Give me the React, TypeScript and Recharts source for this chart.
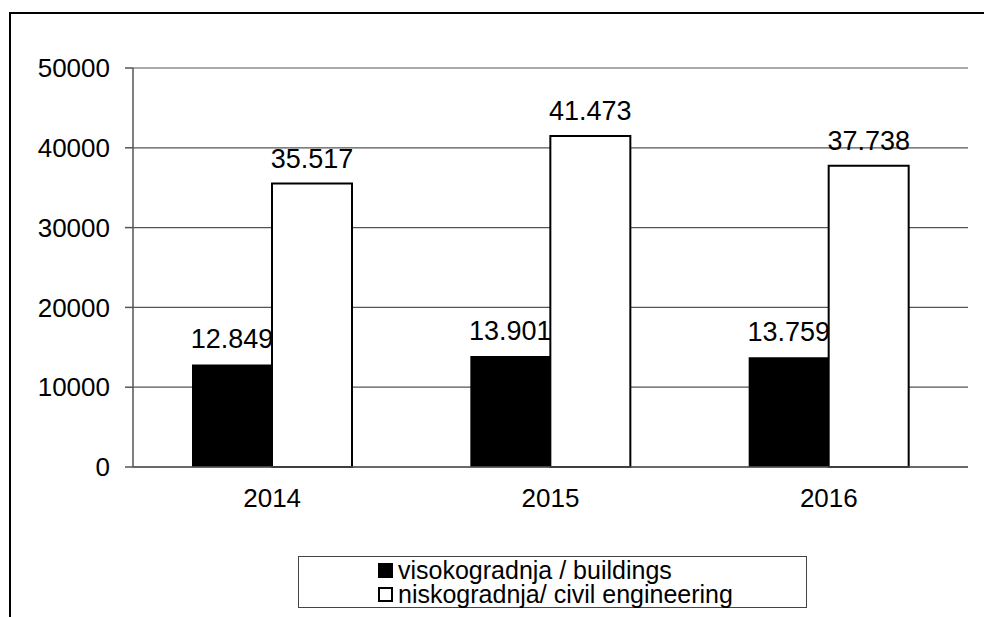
import {
  BarChart,
  Bar,
  XAxis,
  YAxis,
  CartesianGrid,
  Legend,
  LabelList,
} from 'recharts';

const years = ['2014', '2015', '2016'];
const buildings = [12849, 13901, 13759];
const civilEngineering = [35517, 41473, 37738];
const yTicks = [0, 10000, 20000, 30000, 40000, 50000];
const edgeTicks = [0, 1, 2, 3];

const seriesNames = {
  buildings: 'visokogradnja / buildings',
  civil: 'niskogradnja/ civil engineering',
};

const data = years.map((year, i) => ({
  year,
  buildings: buildings[i],
  civil: civilEngineering[i],
}));

const FONT = '"Liberation Sans", Arial, sans-serif';

// 12849 -> "12.849"
function fmt(v: unknown): string {
  return String(v).replace(/\B(?=(\d{3})+(?!\d))/g, '.');
}

function LegendBox() {
  const row = { display: 'flex', alignItems: 'center', height: 24, lineHeight: '24px' } as const;
  return (
    <div style={{ paddingLeft: 79, paddingTop: 1, fontSize: 25, lineHeight: '24px', fontFamily: FONT, color: '#000' }}>
      <div style={row}>
        <span style={{ width: 15, height: 15, background: '#000', marginRight: 5, display: 'inline-block' }} />
        <span>{seriesNames.buildings}</span>
      </div>
      <div style={row}>
        <span
          style={{
            width: 15,
            height: 15,
            background: '#fff',
            border: '2px solid #000',
            boxSizing: 'border-box',
            marginRight: 5,
            display: 'inline-block',
          }}
        />
        <span>{seriesNames.civil}</span>
      </div>
    </div>
  );
}

export default function App() {
  return (
    <div
      style={{
        position: 'absolute',
        left: 0,
        top: 0,
        width: 984,
        height: 617,
        overflow: 'hidden',
        background: '#fff',
        fontFamily: FONT,
      }}
    >
      {/* outer frame (left + top edges) */}
      <div
        style={{
          position: 'absolute',
          left: 9,
          top: 12,
          width: 1000,
          height: 620,
          borderLeft: '2px solid #000',
          borderTop: '2px solid #000',
        }}
      />
      <div style={{ position: 'absolute', left: 0, top: 0 }}>
        <BarChart
          width={984}
          height={617}
          data={data}
          margin={{ top: 68, right: 16, bottom: 110, left: 33 }}
          barCategoryGap="21.2%"
          barGap={0}
        >
          <CartesianGrid xAxisId="cat" vertical={false} stroke="#555" strokeWidth={1.2} />
          <XAxis
            xAxisId="edges"
            type="number"
            domain={[0, 3]}
            ticks={edgeTicks}
            allowDataOverflow
            height={0}
            axisLine={false}
            tickLine={{ stroke: '#555', strokeWidth: 1.5 }}
            tickSize={8}
            tickFormatter={() => ''}
          />
          <XAxis
            xAxisId="cat"
            dataKey="year"
            height={40}
            tickLine={false}
            tickSize={0}
            tickMargin={22}
            axisLine={{ stroke: '#555', strokeWidth: 1.5 }}
            tick={{ fill: '#000', fontSize: 26, fontFamily: FONT }}
          />
          <YAxis
            domain={[0, 50000]}
            ticks={yTicks}
            width={100}
            tickSize={8}
            tickMargin={15}
            axisLine={{ stroke: '#555', strokeWidth: 1.5 }}
            tickLine={{ stroke: '#555', strokeWidth: 1.5 }}
            tick={{ fill: '#000', fontSize: 26, fontFamily: FONT }}
          />
          <YAxis
            yAxisId="r"
            orientation="right"
            width={0}
            tick={false}
            tickLine={false}
            axisLine={{ stroke: '#333', strokeWidth: 2 }}
          />
          <Legend
            layout="vertical"
            align="center"
            verticalAlign="middle"
            content={() => <LegendBox />}
            wrapperStyle={{
              position: 'absolute',
              left: 298,
              top: 556,
              width: 509,
              height: 52,
              border: '1px solid #444',
              boxSizing: 'border-box',
              background: '#fff',
            }}
          />
          <Bar
            xAxisId="cat"
            dataKey="buildings"
            name={seriesNames.buildings}
            fill="#000"
            isAnimationActive={false}
          >
            <LabelList
              dataKey="buildings"
              position="top"
              offset={16}
              formatter={fmt}
              style={{ fill: '#000', fontSize: 27, fontFamily: FONT }}
            />
          </Bar>
          <Bar
            xAxisId="cat"
            dataKey="civil"
            name={seriesNames.civil}
            fill="#fff"
            stroke="#000"
            strokeWidth={2}
            isAnimationActive={false}
          >
            <LabelList
              dataKey="civil"
              position="top"
              offset={16}
              formatter={fmt}
              style={{ fill: '#000', fontSize: 27, fontFamily: FONT }}
            />
          </Bar>
        </BarChart>
      </div>
    </div>
  );
}
